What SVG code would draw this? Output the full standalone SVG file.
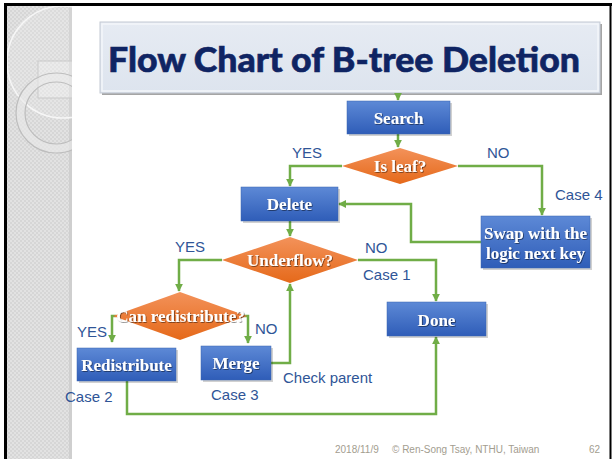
<svg xmlns="http://www.w3.org/2000/svg" width="614" height="459" viewBox="0 0 614 459">
<defs>
<pattern id="chk" width="4" height="4" patternUnits="userSpaceOnUse">
<rect width="4" height="4" fill="#e2e2e2"/>
<rect width="2" height="2" fill="#d6d6d6"/>
<rect x="2" y="2" width="2" height="2" fill="#d6d6d6"/>
</pattern>
<linearGradient id="blue" x1="0" y1="0" x2="0" y2="1">
<stop offset="0" stop-color="#5d89d6"/>
<stop offset="1" stop-color="#2f5db8"/>
</linearGradient>
<linearGradient id="orange" x1="0" y1="0" x2="0" y2="1">
<stop offset="0" stop-color="#f3925a"/>
<stop offset="1" stop-color="#e5691a"/>
</linearGradient>
<linearGradient id="titlebg" x1="0" y1="0" x2="0" y2="1">
<stop offset="0" stop-color="#e6ebf3"/>
<stop offset="1" stop-color="#dde4ee"/>
</linearGradient>
<filter id="tsh" x="-10%" y="-30%" width="120%" height="160%">
<feDropShadow dx="0.8" dy="0.8" stdDeviation="0.7" flood-color="#000" flood-opacity="0.55"/>
</filter>
<marker id="arr" viewBox="0 0 10 10" refX="9" refY="5" markerWidth="3.2" markerHeight="3.2" orient="auto" markerUnits="strokeWidth">
<path d="M0,0 L10,5 L0,10 z" fill="#70ad47"/>
</marker>
<clipPath id="band"><rect x="7" y="6" width="65" height="453"/></clipPath>
</defs>
<style>
.box{fill:url(#blue);stroke:#3a64b0;stroke-width:0.5}
.shadow{fill:#000;opacity:0.18}
.dia{fill:url(#orange)}
.nt{font-family:"Liberation Serif","Times New Roman",serif;font-weight:bold;font-size:17px;fill:#ffffff;text-anchor:middle;filter:url(#tsh)}
.lbl{font-family:"Liberation Sans",Arial,sans-serif;font-size:15px;fill:#2f5597}
.foot{font-family:"Liberation Sans",Arial,sans-serif;font-size:10px;fill:#a39d8f}
.con{fill:none;stroke:#70ad47;stroke-width:2.5;stroke-linejoin:miter}
</style>
<rect width="614" height="459" fill="#ffffff"/>
<!-- left decorative band -->
<rect x="7" y="6" width="65" height="453" fill="url(#chk)"/>
<rect x="69" y="6" width="3" height="453" fill="#cfcfcf"/>
<g clip-path="url(#band)">
<circle cx="63" cy="62" r="56" fill="#ffffff" fill-opacity="0.12" stroke="#f6f6f6" stroke-width="1.6"/>
<rect x="38" y="61" width="36" height="37" fill="#ffffff" fill-opacity="0.25" stroke="#c9c9c9" stroke-width="1"/>
<circle cx="56" cy="113" r="35.5" fill="none" stroke="#e9e9e9" stroke-width="9" stroke-opacity="0.6"/>
<circle cx="56" cy="113" r="40" fill="none" stroke="#bdbdbd" stroke-width="1.2"/>
<circle cx="56" cy="113" r="31" fill="none" stroke="#bdbdbd" stroke-width="1.2"/>
</g>
<!-- frame -->
<rect x="4" y="3" width="3" height="456" fill="#000"/>
<rect x="4" y="3" width="608" height="3" fill="#000"/>
<rect x="609.5" y="3" width="2" height="456" fill="#000"/>
<!-- title -->
<g id="title">
<rect x="102" y="24" width="500" height="71" fill="#a5a5a5"/>
<rect x="100" y="22" width="500" height="71" fill="url(#titlebg)" stroke="#c3c9d3" stroke-width="1"/>
<rect x="102" y="24" width="496" height="67" fill="none" stroke="#f3f6fa" stroke-width="1.5"/>
<text x="108" y="72" font-family="Lato,'Open Sans',sans-serif" font-weight="900" font-size="35" fill="#0f2463" stroke="#0f2463" stroke-width="0.6" textLength="472" lengthAdjust="spacingAndGlyphs">Flow Chart of B-tree Deletion</text>
</g>
<!-- connectors -->
<g id="connectors">
<path class="con" d="M398,93 V100" marker-end="url(#arr)"/>
<path class="con" d="M398,134 V147" marker-end="url(#arr)"/>
<path class="con" d="M342,166 H290 V186" marker-end="url(#arr)"/>
<path class="con" d="M458,166 H542 V215" marker-end="url(#arr)"/>
<path class="con" d="M481,242 H411 V204 H339" marker-end="url(#arr)"/>
<path class="con" d="M290,221 V236" marker-end="url(#arr)"/>
<path class="con" d="M222,260 H179 V291" marker-end="url(#arr)"/>
<path class="con" d="M358,260 H436 V301" marker-end="url(#arr)"/>
<path class="con" d="M116,316 H112 V342" marker-end="url(#arr)"/>
<path class="con" d="M244,316 H248 V343" marker-end="url(#arr)"/>
<path class="con" d="M271,363 H290 V284" marker-end="url(#arr)"/>
<path class="con" d="M127,381 V414 H436 V337" marker-end="url(#arr)"/>
</g>
<!-- nodes -->
<g id="search">
<rect class="shadow" x="349" y="103" width="103" height="33"/>
<rect class="box" x="347" y="101" width="103" height="33"/>
<text class="nt" x="398.5" y="124">Search</text>
</g>
<g id="isleaf">
<polygon class="dia" points="400,148 458,166 400,184 342,166"/>
<text class="nt" x="400" y="172">Is leaf?</text>
</g>
<g id="delete">
<rect class="shadow" x="243" y="189" width="97" height="34"/>
<rect class="box" x="241" y="187" width="97" height="34"/>
<text class="nt" x="289.5" y="210">Delete</text>
</g>
<g id="swap">
<rect class="shadow" x="483" y="218" width="109" height="52"/>
<rect class="box" x="481" y="216" width="109" height="52"/>
<text class="nt" x="535.5" y="239">Swap with the</text>
<text class="nt" x="535.5" y="259">logic next key</text>
</g>
<g id="underflow">
<polygon class="dia" points="290,237 358,260 290,283 222,260"/>
<text class="nt" x="290" y="266">Underflow?</text>
</g>
<g id="done">
<rect class="shadow" x="389" y="304" width="99" height="34"/>
<rect class="box" x="387" y="302" width="99" height="34"/>
<text class="nt" x="436.5" y="326">Done</text>
</g>
<g id="canredistribute">
<polygon class="dia" points="180,292 247,316 180,340 113,316"/>
<text class="nt" x="180.5" y="322">Can redistribute?</text>
</g>
<g id="redistribute">
<rect class="shadow" x="79" y="350" width="99" height="33"/>
<rect class="box" x="77" y="348" width="99" height="33"/>
<text class="nt" x="126.5" y="371">Redistribute</text>
</g>
<g id="merge">
<rect class="shadow" x="203" y="348" width="70" height="34"/>
<rect class="box" x="201" y="346" width="70" height="34"/>
<text class="nt" x="236" y="369">Merge</text>
</g>
<!-- labels -->
<g id="labels">
<text class="lbl" x="292" y="158">YES</text>
<text class="lbl" x="487" y="158">NO</text>
<text class="lbl" x="555" y="200">Case 4</text>
<text class="lbl" x="175" y="252">YES</text>
<text class="lbl" x="365" y="253">NO</text>
<text class="lbl" x="363" y="280">Case 1</text>
<text class="lbl" x="77" y="337">YES</text>
<text class="lbl" x="255" y="334">NO</text>
<text class="lbl" x="283" y="383">Check parent</text>
<text class="lbl" x="65" y="402">Case 2</text>
<text class="lbl" x="211" y="400">Case 3</text>
</g>
<g id="footer">
<text class="foot" x="335" y="453">2018/11/9</text>
<text class="foot" x="392" y="453">© Ren-Song Tsay, NTHU, Taiwan</text>
<text class="foot" x="589" y="453">62</text>
</g>
</svg>
